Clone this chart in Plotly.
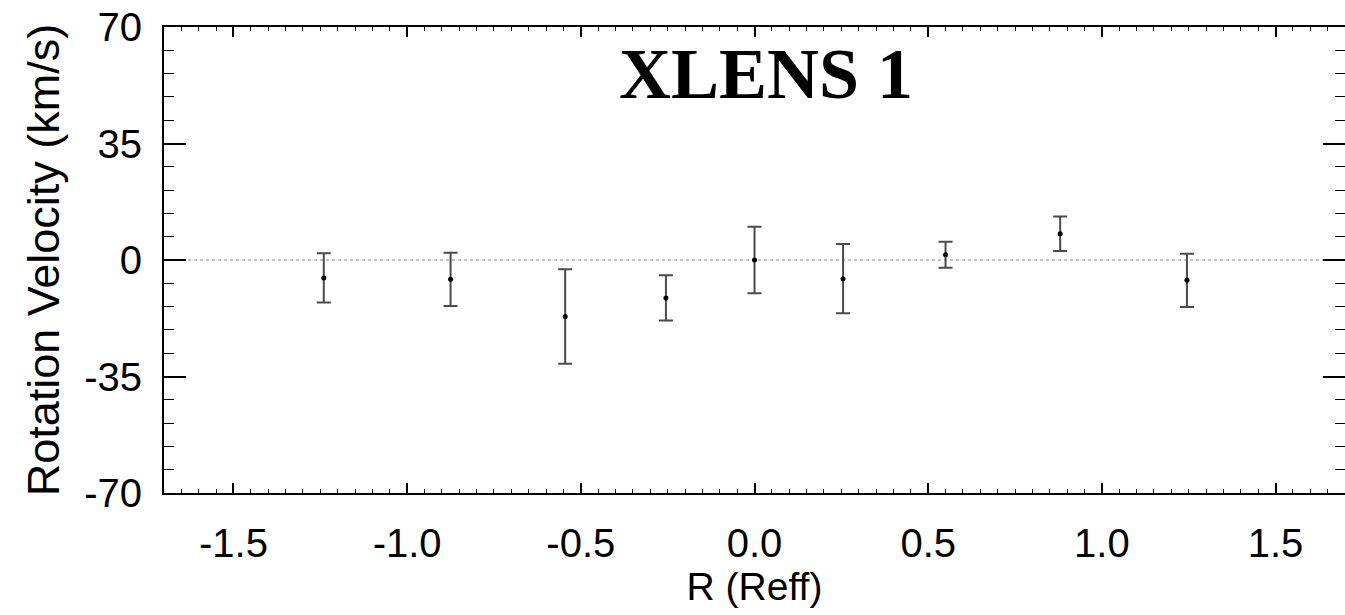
import plotly.graph_objects as go

# Data
r_reff = [-1.24, -0.875, -0.545, -0.255, 0.0, 0.255, 0.55, 0.88, 1.245]
v_rot = [-5.4, -5.8, -17.0, -11.4, 0.0, -5.6, 1.6, 7.9, -6.1]
v_err = [7.4, 8.0, 14.2, 6.8, 10.0, 10.4, 3.9, 5.2, 8.0]

y_ticks = [-70, -35, 0, 35, 70]
y_tick_text = ["-70", "-35", "0", "35", "70"]
x_ticks = [-1.5, -1.0, -0.5, 0.0, 0.5, 1.0, 1.5]
x_tick_text = ["-1.5", "-1.0", "-0.5", "0.0", "0.5", "1.0", "1.5"]

title_text = "XLENS 1"
x_label = "R (Reff)"
y_label = "Rotation Velocity (km/s)"

SANS = "Liberation Sans, Arial, Helvetica, sans-serif"
SERIF = "Liberation Serif, Times New Roman, serif"

fig = go.Figure()

# zero reference line (dotted)
fig.add_trace(go.Scatter(
    x=[-1.7, 1.7], y=[0, 0], mode="lines",
    line=dict(color="#888888", width=1.2, dash="dot"),
    hoverinfo="skip", showlegend=False,
))

fig.add_trace(go.Scatter(
    x=r_reff, y=v_rot, mode="markers",
    marker=dict(color="black", size=5),
    error_y=dict(type="data", array=v_err, visible=True,
                 color="#4a4a4a", thickness=2, width=7),
    showlegend=False,
))

fig.update_layout(
    width=1345, height=615,
    margin=dict(l=164, r=0, t=27, b=122, autoexpand=False),
    paper_bgcolor="white", plot_bgcolor="white",
    font=dict(family=SANS, color="black"),
    annotations=[dict(
        text="<b>" + title_text + "</b>", xref="paper", yref="paper",
        x=0.51, y=0.9, xanchor="center", yanchor="middle", showarrow=False,
        font=dict(family=SERIF, size=72, color="black"),
    )],
)

fig.update_xaxes(
    range=[-1.7, 1.7], tickvals=x_ticks, ticktext=x_tick_text,
    ticks="inside", ticklen=10, tickwidth=1.5, tickcolor="black",
    minor=dict(dtick=0.05, ticks="inside", ticklen=4, tickwidth=1.2, tickcolor="black"),
    showline=True, linecolor="black", linewidth=2, mirror="allticks",
    showgrid=False, zeroline=False,
    tickfont=dict(family=SANS, size=40, color="black"),
    ticklabelstandoff=14,
    title=dict(text=x_label, font=dict(family=SANS, size=39, color="black"), standoff=0),
)

fig.update_yaxes(
    range=[-70, 70], tickvals=y_ticks, ticktext=y_tick_text,
    ticks="inside", ticklen=22, tickwidth=1.5, tickcolor="black",
    minor=dict(dtick=7, ticks="inside", ticklen=10, tickwidth=1.2, tickcolor="black"),
    showline=True, linecolor="black", linewidth=2, mirror="allticks",
    showgrid=False, zeroline=False,
    tickfont=dict(family=SANS, size=40, color="black"),
    ticklabelstandoff=12,
    title=dict(text=y_label, font=dict(family=SANS, size=45, color="black"), standoff=10),
)

fig.write_html("out.html")
